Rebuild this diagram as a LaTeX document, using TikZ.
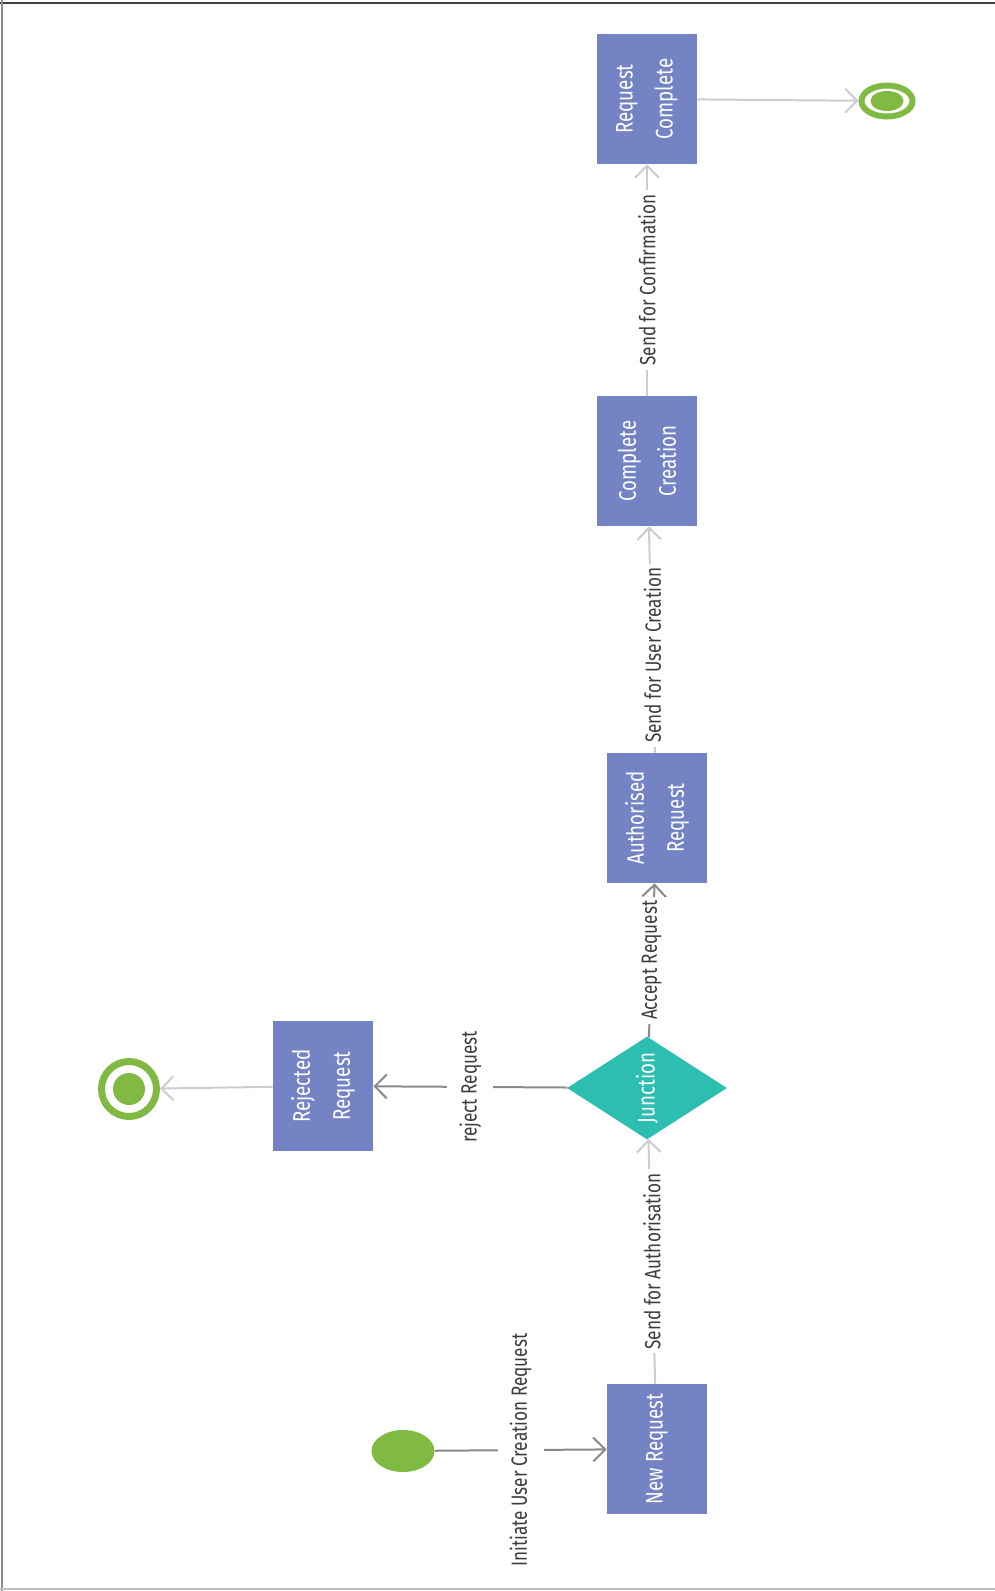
\documentclass[tikz,border=0pt]{standalone}
\usepackage{fontspec}
\setmainfont{Fira Sans}[FakeStretch=0.78]
\usetikzlibrary{shapes.geometric,arrows.meta}
\definecolor{taskblue}{HTML}{7383C4}
\definecolor{juncteal}{HTML}{2CBFB1}
\definecolor{stategreen}{HTML}{80BA43}
\definecolor{darkline}{HTML}{8A8A8A}
\definecolor{lightline}{HTML}{CDCDCD}
\definecolor{labeltext}{HTML}{3C3C3C}
\begin{document}
\begin{tikzpicture}[x=.5pt,y=-.5pt,
  task/.style={rectangle,fill=taskblue,text=white,rotate=90,minimum width=65pt,minimum height=50pt,inner sep=0pt,align=center,font=\fontsize{12}{20}\selectfont},
  flow/.style={line width=1pt,-{Straight Barb[length=6pt,width=12pt]}},
  lbl/.style={fill=white,rotate=90,text=labeltext,inner xsep=2pt,inner ysep=6pt,font=\fontsize{11}{13}\selectfont}]
\useasboundingbox (0,0) rectangle (995,1591);
% frame
\draw[line width=1pt,black!75] (0,2.5) -- (995,2.5);
\draw[line width=1pt,black!45] (1.5,0) -- (1.5,1591);
\draw[line width=1pt,black!25] (0,1589) -- (995,1589);
% states
\node[ellipse,fill=stategreen,minimum width=31.5pt,minimum height=21pt,inner sep=0pt] (start) at (403,1451) {};
\node[ellipse,draw=stategreen,line width=3pt,minimum width=25.5pt,minimum height=15.5pt,inner sep=0pt] (endA) at (887,101) {};
\fill[stategreen] (endA) ellipse (8.25pt and 5pt);
\node[circle,draw=stategreen,line width=3.5pt,minimum size=27.5pt,inner sep=0pt] (endB) at (129,1089) {};
\fill[stategreen] (endB) circle (8pt);
% tasks
\node[task] (newreq) at (657,1449) {New Request};
\node[task] (rejected) at (323,1086) {Rejected\\Request};
\node[task] (authorised) at (657,818) {Authorised\\Request};
\node[task] (complete) at (647,461) {Complete\\Creation};
\node[task] (reqcomplete) at (647,99) {Request\\Complete};
\node[diamond,fill=juncteal,text=white,rotate=90,minimum width=51.5pt,minimum height=80pt,inner sep=0pt,font=\fontsize{12}{14}\selectfont] (junction) at (647,1088) {Junction};
% flows
\draw[flow,darkline] (start) -- node[lbl]{Initiate User Creation Request} (newreq);
\draw[flow,lightline] (newreq) -- node[lbl]{Send for Authorisation} (junction);
\draw[flow,darkline] (junction) -- node[lbl]{reject Request} (rejected);
\draw[flow,darkline] (junction) -- node[lbl]{Accept Request} (authorised);
\draw[flow,lightline] (authorised) -- node[lbl,pos=.43]{Send for User Creation} (complete);
\draw[flow,lightline] (complete) -- node[lbl]{Send for Confirmation} (reqcomplete);
\draw[flow,lightline] (reqcomplete) -- (endA);
\draw[flow,lightline] (rejected) -- (endB);
\end{tikzpicture}
\end{document}
